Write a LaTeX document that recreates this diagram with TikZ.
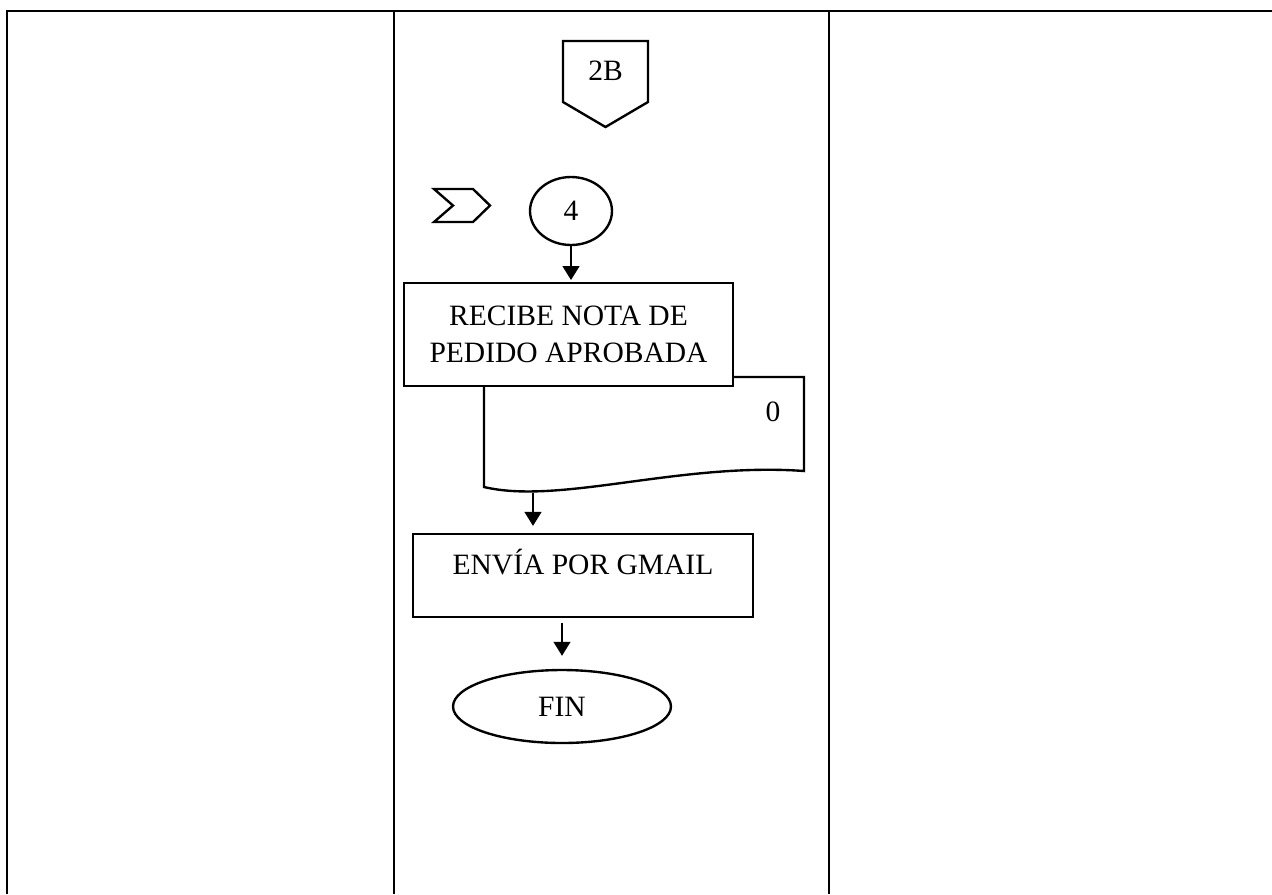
\documentclass[tikz,border=0pt]{standalone}
\usepackage{fontspec}
\setmainfont{Liberation Serif}
\usetikzlibrary{shapes.geometric,arrows.meta}
\begin{document}
\begin{tikzpicture}[x=0.02cm, y=-0.02cm, line width=1.35pt,
    >={Triangle[length=8pt,width=9.5pt]},
    proc/.style={draw, rectangle, align=center},
    term/.style={draw, ellipse, inner sep=0pt},
    every node/.style={font=\fontsize{16.8}{21}\selectfont}]
\useasboundingbox (0,0) rectangle (1272,894);
% table
\draw[line width=1.5pt](7,894)--(7,11)--(1272,11);
\foreach \x in {394,829}
{
    \draw[line width=1.5pt](\x,11)--(\x,894);
}
% off page connector
\draw(563,41)--(648,41)--(648,102)--(605.5,127)--(563,102)--cycle;
\node (dosb) at (605.5,71) {2B};
% chevron
\draw(434,189)--(473,189)--(490,205.5)--(473,222)--(434,222)--(453,205.5)--cycle;
\node (cuatro)[term, minimum width=1.64cm, minimum height=1.36cm] at (571,211) {4};
\node (recibe)[proc, minimum width=6.58cm, minimum height=2.06cm] at (568.5,334.5) {RECIBE NOTA DE\\PEDIDO APROBADA};
% document
\draw(484,386)--(484,487) .. controls (560,505) and (680,462) .. (804,471)--(804,377)--(733,377);
\coordinate (docbot) at (533,493);
\node (cero) at (773,412) {0};
\node (envia)[proc, inner sep=0pt, text height=22.7pt, text depth=24.4pt, minimum width=6.8cm] at (583,575.5) {ENVÍA POR GMAIL};
\node (fin)[term, minimum width=4.36cm, minimum height=1.46cm] at (562,706.5) {FIN};
\draw[->, shorten >=1pt](cuatro.south)--(cuatro.south |- recibe.north);
\draw[->, shorten >=4pt](docbot)--(docbot |- envia.north);
\draw[->, shorten <=2.8pt, shorten >=7.4pt](fin.north |- envia.south)--(fin.north);
\end{tikzpicture}
\end{document}
